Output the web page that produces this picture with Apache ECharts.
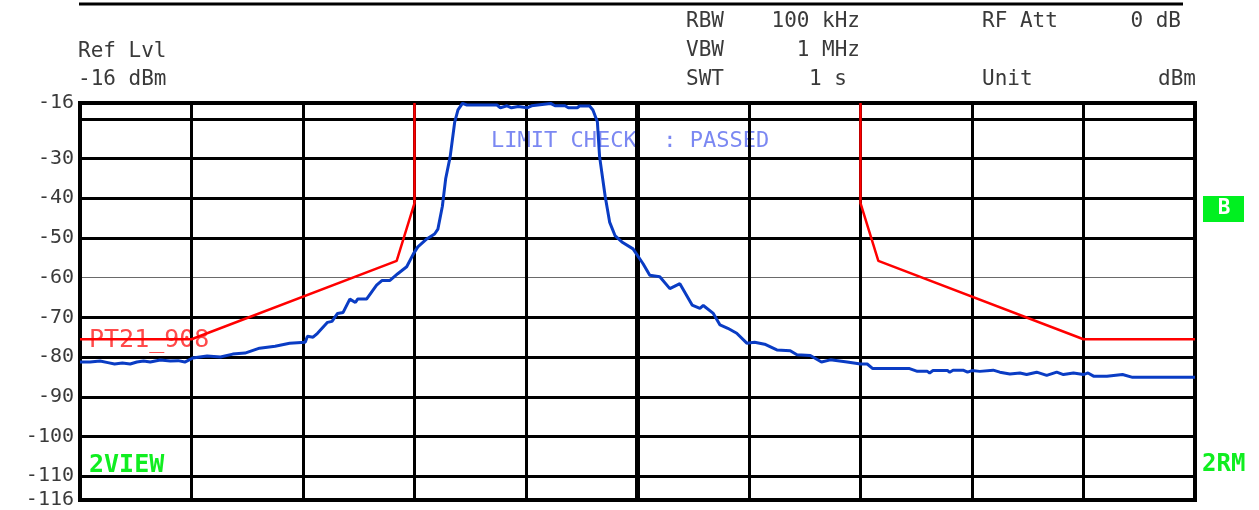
<!DOCTYPE html>
<html>
<head>
<meta charset="utf-8">
<script src="https://cdn.jsdelivr.net/npm/echarts@6/dist/echarts.min.js"></script>
<style>
html,body{margin:0;padding:0;background:#fff;}
#chart{width:1259px;height:510px;}
</style>
</head>
<body>
<div id="chart"></div>
<script>
// ---- Data (x in screen divisions 0..10, y in dBm) ----
const traceX = [0.00,0.09,0.18,0.25,0.31,0.38,0.45,0.51,0.57,0.63,0.72,0.81,0.88,0.94,1.01,1.14,1.26,1.37,1.48,1.61,1.75,1.88,2.02,2.04,2.09,2.13,2.22,2.26,2.31,2.36,2.42,2.47,2.49,2.57,2.66,2.71,2.78,2.85,2.93,2.99,3.03,3.11,3.18,3.21,3.25,3.28,3.32,3.36,3.39,3.43,3.47,3.74,3.77,3.83,3.87,3.93,4.01,4.05,4.22,4.26,4.35,4.38,4.46,4.48,4.57,4.60,4.64,4.66,4.71,4.75,4.80,4.86,4.96,5.05,5.11,5.20,5.29,5.38,5.49,5.56,5.59,5.68,5.74,5.81,5.89,5.98,6.05,6.14,6.25,6.37,6.43,6.55,6.65,6.73,6.88,7.00,7.06,7.11,7.44,7.51,7.60,7.62,7.65,7.78,7.80,7.83,7.92,7.96,8.00,8.07,8.19,8.25,8.34,8.43,8.49,8.58,8.67,8.76,8.82,8.91,9.00,9.04,9.09,9.21,9.35,9.44,9.69,10.00];
const traceDbm = [-81.25,-81.25,-81.0,-81.4,-81.75,-81.5,-81.75,-81.25,-81.0,-81.25,-80.75,-81.0,-80.9,-81.25,-80.25,-79.75,-80.0,-79.25,-79.0,-77.75,-77.25,-76.5,-76.25,-74.75,-75.0,-74.0,-71.25,-71.0,-69.0,-68.75,-65.4,-66.25,-65.4,-65.4,-61.9,-60.7,-60.7,-59.0,-57.25,-54.0,-52.25,-50.25,-49.0,-47.75,-42.0,-35.0,-29.5,-20.9,-17.75,-16.1,-16.5,-16.5,-17.2,-16.7,-17.2,-16.9,-17.2,-16.7,-16.1,-16.7,-16.7,-17.2,-17.2,-16.75,-16.75,-17.75,-20.7,-29.5,-39.5,-46.0,-49.5,-51.0,-52.75,-56.5,-59.4,-59.75,-62.75,-61.5,-66.9,-67.75,-67.0,-69.0,-71.9,-72.75,-74.0,-76.5,-76.25,-76.75,-78.2,-78.4,-79.4,-79.6,-81.25,-80.7,-81.25,-81.75,-81.75,-82.9,-82.9,-83.6,-83.6,-84.0,-83.4,-83.4,-83.8,-83.3,-83.3,-83.8,-83.4,-83.6,-83.3,-83.8,-84.25,-84.0,-84.4,-83.8,-84.6,-83.8,-84.4,-84.0,-84.4,-84.0,-84.8,-84.8,-84.4,-85.1,-85.1,-85.1];

const limitLeftX  = [0, 1.0, 2.84, 3.0, 3.0];
const limitLeftDbm = [-75.5, -75.5, -55.75, -41.2, -16];
const limitRightX = [7.0, 7.0, 7.16, 9.0, 10];
const limitRightDbm = [-16, -41.2, -55.75, -75.5, -75.5];

const yMin = -116, yMax = -16;
const yTickLabels = [-16, -30, -40, -50, -60, -70, -80, -90, -100, -110, -116];
const gridLinesY = [-20, -30, -40, -50, -60, -70, -80, -90, -100, -110];
const gridLinesX = [1, 2, 3, 4, 5, 6, 7, 8, 9];

const headerLeft = [["Ref Lvl", 52], ["-16 dBm", 80]];
const headerMid = [["RBW", "100 kHz", 22], ["VBW", "1 MHz", 51], ["SWT", "1 s", 80]];
const limitName = "PT21_908";
const limitStatus = "LIMIT CHECK  : PASSED";

// ---- Chart ----
const FONT = '"DejaVu Sans Mono", "Liberation Mono", monospace';
const TXT = '#3a3a3a';
const zip = (xs, ys) => xs.map((x, i) => [x, ys[i]]);

const markData = [];
gridLinesY.forEach(v => markData.push({ yAxis: v, lineStyle: { color: v === -60 ? '#6a6a6a' : '#000', width: v === -60 ? 1.2 : 3, type: 'solid' } }));
gridLinesX.forEach(v => markData.push({ xAxis: v, lineStyle: { color: '#000', width: v === 5 ? 5 : 3, type: 'solid' } }));

const graphics = [
  { type: 'line', shape: { x1: 79, y1: 4, x2: 1183, y2: 4 }, style: { stroke: '#000', lineWidth: 3 } },
];
headerLeft.forEach(([t, y]) => graphics.push({ type: 'text', x: 78, y: y, style: { text: t, font: '21px ' + FONT, fill: TXT, textAlign: 'left', textVerticalAlign: 'middle' } }));
headerMid.forEach(([a, b, y]) => {
  graphics.push({ type: 'text', x: 686, y: y, style: { text: a, font: '21px ' + FONT, fill: TXT, textAlign: 'left', textVerticalAlign: 'middle' } });
  graphics.push({ type: 'text', x: b === '1 s' ? 847 : 860, y: y, style: { text: b, font: '21px ' + FONT, fill: TXT, textAlign: 'right', textVerticalAlign: 'middle' } });
});
graphics.push({ type: 'text', x: 982, y: 22, style: { text: 'RF Att', font: '21px ' + FONT, fill: TXT, textAlign: 'left', textVerticalAlign: 'middle' } });
graphics.push({ type: 'text', x: 1181, y: 22, style: { text: '0 dB', font: '21px ' + FONT, fill: TXT, textAlign: 'right', textVerticalAlign: 'middle' } });
graphics.push({ type: 'text', x: 982, y: 80, style: { text: 'Unit', font: '21px ' + FONT, fill: TXT, textAlign: 'left', textVerticalAlign: 'middle' } });
graphics.push({ type: 'text', x: 1196, y: 80, style: { text: 'dBm', font: '21px ' + FONT, fill: TXT, textAlign: 'right', textVerticalAlign: 'middle' } });
graphics.push({ type: 'text', x: 491, y: 141, z: 0, style: { text: limitStatus, font: '22px ' + FONT, fill: '#7b88f2', textAlign: 'left', textVerticalAlign: 'middle' } });
graphics.push({ type: 'text', x: 89, y: 340, z: 0, style: { text: limitName, font: '25px ' + FONT, fill: '#ff4a4a', textAlign: 'left', textVerticalAlign: 'middle' } });
graphics.push({ type: 'text', x: 89, y: 465, z: 0, style: { text: '2VIEW', font: 'bold 25px ' + FONT, fill: '#10ee20', textAlign: 'left', textVerticalAlign: 'middle' } });
graphics.push({ type: 'text', x: 1202, y: 465, style: { text: '2RM', font: 'bold 24px ' + FONT, fill: '#10ee20', textAlign: 'left', textVerticalAlign: 'middle' } });
graphics.push({ type: 'rect', shape: { x: 1203, y: 196, width: 41, height: 26 }, style: { fill: '#00f020' } });
graphics.push({ type: 'text', x: 1224, y: 209, z: 10, style: { text: 'B', font: 'bold 21px ' + FONT, fill: '#fff', textAlign: 'center', textVerticalAlign: 'middle' } });

const chart = echarts.init(document.getElementById('chart'), null, { renderer: 'canvas' });
chart.setOption({
  animation: false,
  backgroundColor: '#fff',
  grid: { left: 80, right: 64, top: 103, bottom: 7, show: true, borderColor: '#000', borderWidth: 4, backgroundColor: 'transparent', z: 5 },
  xAxis: { type: 'value', min: 0, max: 10, show: true, axisLine: { show: false }, axisTick: { show: false }, axisLabel: { show: false }, splitLine: { show: false } },
  yAxis: {
    type: 'value', min: yMin, max: yMax, interval: 2,
    axisLine: { show: false }, axisTick: { show: false }, splitLine: { show: false },
    axisLabel: {
      margin: 6, color: TXT, fontFamily: FONT, fontSize: 20,
      showMinLabel: true, showMaxLabel: true,
      formatter: v => yTickLabels.includes(Math.round(v)) ? String(Math.round(v)) : ''
    }
  },
  graphic: { elements: graphics },
  series: [
    {
      type: 'line', data: [], z: 1, silent: true,
      markLine: { silent: true, z: 1, symbol: 'none', label: { show: false }, animation: false, data: markData }
    },
    { type: 'line', data: zip(limitLeftX, limitLeftDbm), z: 6, symbol: 'none', lineStyle: { color: '#ff0000', width: 2.5 }, silent: true },
    { type: 'line', data: zip(limitRightX, limitRightDbm), z: 6, symbol: 'none', lineStyle: { color: '#ff0000', width: 2.5 }, silent: true },
    { type: 'line', data: zip(traceX, traceDbm), z: 7, symbol: 'none', lineStyle: { color: '#0a3cc4', width: 3 }, silent: true }
  ]
});
</script>
</body>
</html>
